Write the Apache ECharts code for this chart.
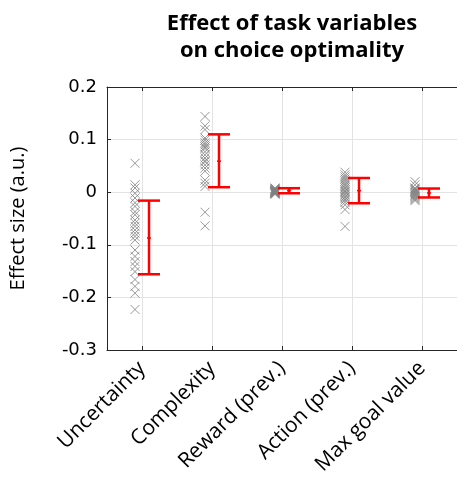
<!DOCTYPE html>
<html>
<head>
<meta charset="utf-8">
<script src="https://cdn.jsdelivr.net/npm/echarts@6/dist/echarts.min.js"></script>
<style>
  html, body { margin: 0; padding: 0; background: #fff; }
  #chart { width: 457px; height: 492px; }
</style>
</head>
<body>
<div id="chart"></div>
<script>
// categories and per-subject effect sizes
var categories = ['Uncertainty', 'Complexity', 'Reward (prev.)', 'Action (prev.)', 'Max goal value'];

var uncertaintyVals = [0.055, 0.014, 0.008, -0.002, -0.011, -0.020, -0.027, -0.037, -0.043, -0.053, -0.059,
    -0.065, -0.072, -0.078, -0.084, -0.091, -0.110, -0.122, -0.132, -0.141, -0.151, -0.166, -0.179, -0.192, -0.223];
var complexityVals = [0.144, 0.126, 0.119, 0.103, 0.099, 0.094, 0.090, 0.086, 0.083, 0.077, 0.071, 0.065,
    0.060, 0.058, 0.052, 0.046, 0.040, 0.023, 0.017, 0.011, -0.038, -0.064];
var rewardVals = [0.008, 0.007, 0.006, 0.005, 0.004, 0.004, 0.003, 0.003, 0.002, 0.002, 0.001, 0.001,
    0.000, 0.000, -0.001, -0.001, -0.002, -0.002, -0.003, -0.004];
var actionVals = [0.038, 0.033, 0.029, 0.025, 0.021, 0.017, 0.014, 0.011, 0.008, 0.005, 0.002, 0.000,
    -0.003, -0.006, -0.009, -0.012, -0.015, -0.019, -0.024, -0.033, -0.065];
var maxGoalVals = [0.020, 0.014, 0.008, 0.006, 0.004, 0.002, 0.000, -0.001, -0.003, -0.005, -0.006,
    -0.008, -0.010, -0.012, -0.014, -0.016];

// error bars: [low, high, mean]
var errLow = [-0.156, 0.0095, -0.002, -0.021, -0.010];
var errHigh = [-0.016, 0.110, 0.0076, 0.027, 0.007];
var errMean = [-0.087, 0.059, 0.003, 0.003, -0.0015];

var yTicks = [-0.3, -0.2, -0.1, 0, 0.1, 0.2];

var chart = echarts.init(document.getElementById('chart'));

var allVals = [uncertaintyVals, complexityVals, rewardVals, actionVals, maxGoalVals];
var pointData = [];
allVals.forEach(function (vals, i) {
    vals.forEach(function (v) { pointData.push([i + 1 - 0.1, v]); });
});
var errData = categories.map(function (c, i) {
    return [i + 1 + 0.1, errLow[i], errHigh[i], errMean[i]];
});

var boxColor = '#262626';
var tickFont = 'DejaVu Sans';

var option = {
    animation: false,
    title: {
        text: 'Effect of task variables\non choice optimality',
        left: 287,
        top: 5,
        textAlign: 'center',
        textStyle: {
            fontFamily: 'Open Sans',
            fontWeight: 'bold',
            fontSize: 22,
            lineHeight: 27,
            color: '#000'
        }
    },
    grid: { left: 107, top: 87, width: 353, height: 263 },
    xAxis: [{
        type: 'value',
        min: 0.5,
        max: 5.5,
        splitNumber: 5,
        position: 'bottom',
        axisLine: { show: true, onZero: false, lineStyle: { color: boxColor, width: 1 } },
        axisTick: { show: true, inside: true, length: 4, lineStyle: { color: boxColor } },
        splitLine: { show: true, lineStyle: { color: '#e3e3e3', width: 1 } },
        axisLabel: {
            rotate: 45,
            margin: 15,
            fontFamily: 'Open Sans',
            fontSize: 21,
            color: '#000',
            showMinLabel: false,
            showMaxLabel: false,
            formatter: function (v) {
                var k = Math.round(v);
                return (Math.abs(v - k) < 1e-6 && k >= 1 && k <= 5) ? categories[k - 1] : '';
            }
        }
    }, {
        type: 'value',
        min: 0.5,
        max: 5.5,
        splitNumber: 5,
        position: 'top',
        axisLine: { show: true, onZero: false, lineStyle: { color: boxColor, width: 1 } },
        axisTick: { show: true, inside: true, length: 4, lineStyle: { color: boxColor } },
        splitLine: { show: false },
        axisLabel: { show: false }
    }],
    yAxis: {
        type: 'value',
        min: yTicks[0],
        max: yTicks[yTicks.length - 1],
        interval: 0.1,
        name: 'Effect size (a.u.)',
        nameLocation: 'middle',
        nameGap: 79,
        nameTextStyle: { fontFamily: 'Open Sans', fontSize: 20, color: '#000' },
        axisLine: { show: true, onZero: false, lineStyle: { color: boxColor, width: 1 } },
        axisTick: { show: true, inside: true, length: 4, lineStyle: { color: boxColor } },
        splitLine: { show: true, lineStyle: { color: '#e3e3e3', width: 1 } },
        axisLabel: {
            margin: 10,
            fontFamily: tickFont,
            fontSize: 18,
            color: '#000',
            formatter: function (v) {
                var r = Math.round(v * 10) / 10;
                if (r === 0) return '0';
                return r.toFixed(1);
            }
        }
    },
    series: [{
        type: 'scatter',
        data: pointData,
        symbol: 'path://M0 0L10 10M10 0L0 10',
        symbolSize: 9,
        itemStyle: { color: 'rgba(0,0,0,0)', borderColor: '#808080', borderWidth: 1 },
        z: 3
    }, {
        type: 'custom',
        data: errData,
        z: 4,
        renderItem: function (params, api) {
            var x = api.value(0);
            var pLo = api.coord([x, api.value(1)]);
            var pHi = api.coord([x, api.value(2)]);
            var pM = api.coord([x, api.value(3)]);
            var cap = 11;
            var st = { stroke: '#ff0000', lineWidth: 2.5 };
            return {
                type: 'group',
                children: [
                    { type: 'line', shape: { x1: pLo[0], y1: pLo[1], x2: pHi[0], y2: pHi[1] }, style: st },
                    { type: 'line', shape: { x1: pLo[0] - cap, y1: pLo[1], x2: pLo[0] + cap, y2: pLo[1] }, style: st },
                    { type: 'line', shape: { x1: pHi[0] - cap, y1: pHi[1], x2: pHi[0] + cap, y2: pHi[1] }, style: st },
                    { type: 'line', shape: { x1: pM[0] - 2, y1: pM[1], x2: pM[0] + 2, y2: pM[1] }, style: { stroke: '#ff0000', lineWidth: 1.5 } }
                ]
            };
        }
    }]
};

chart.setOption(option);
</script>
</body>
</html>
